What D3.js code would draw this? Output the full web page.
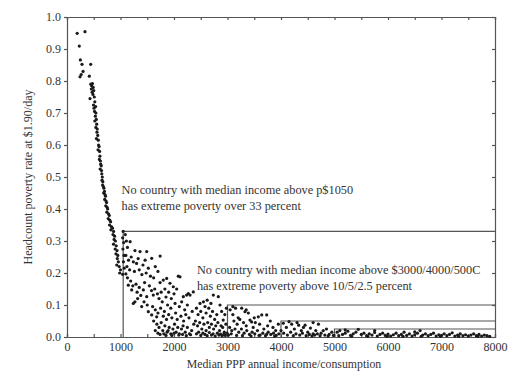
<!DOCTYPE html>
<html>
<head>
<meta charset="utf-8">
<script src="https://cdn.jsdelivr.net/npm/d3@7"></script>
<style>
  body { margin: 0; background: #fff; }
  text { font-family: "Liberation Serif", "DejaVu Serif", serif; fill: #333; }
</style>
</head>
<body>
<div id="app"></div>
<script>
const WIDTH = 527, HEIGHT = 384;

// steep part of the curve, income below ~1100
const curvePoints = [
  [190,0.949],[336,0.954],[230,0.909],[250,0.866],[280,0.852],[443,0.852],[243,0.813],[300,0.83],[265,0.82],[417,0.815],
  [445,0.79],[460,0.785],[475,0.792],[490,0.78],[455,0.775],[500,0.77],[470,0.765],[485,0.758],[430,0.745],[510,0.75],
  [520,0.735],[495,0.725],[505,0.715],[535,0.72],[515,0.705],[540,0.7],[530,0.69],[548,0.68],[520,0.675],[555,0.665],
  [540,0.655],[565,0.65],[560,0.64],[575,0.63],[550,0.62],[585,0.615],[590,0.6],[600,0.595],[580,0.585],[610,0.58],
  [615,0.565],[605,0.555],[625,0.55],[630,0.54],[640,0.535],[620,0.525],[645,0.52],[650,0.51],[660,0.5],[655,0.49],
  [670,0.485],[665,0.475],[680,0.47],[690,0.465],[700,0.455],[685,0.45],[710,0.445],[720,0.44],[705,0.43],[730,0.425],
  [740,0.42],[725,0.41],[750,0.405],[760,0.4],[745,0.39],[775,0.385],[790,0.38],[770,0.37],[800,0.365],[815,0.36],
  [795,0.35],[830,0.345],[850,0.34],[820,0.335],[870,0.33],[860,0.32],[890,0.315],[880,0.305],[905,0.3],[870,0.29],
  [920,0.285],[900,0.275],[935,0.27],[915,0.26],[950,0.255],[940,0.245],[960,0.235],[930,0.225],[975,0.22],[1000,0.21],
  [985,0.2],[1050,0.33],[1040,0.31],[1060,0.295],[1045,0.275],[1065,0.255],[1055,0.235],[1070,0.215],[1040,0.196],[1100,0.197]
];

// 1050 - 2400
const midPoints = [
  [1090,0.32],[1110,0.3],[1180,0.298],[1130,0.28],[1270,0.27],[1365,0.267],[1490,0.267],[1583,0.246],[1740,0.253],[1100,0.255],
  [1150,0.24],[1200,0.25],[1240,0.235],[1300,0.23],[1330,0.245],[1420,0.225],[1460,0.24],[1520,0.215],[1650,0.22],[1700,0.205],
  [1120,0.22],[1170,0.21],[1260,0.205],[1350,0.21],[1400,0.195],[1480,0.2],[1560,0.19],[1620,0.185],[1800,0.178],[1863,0.183],
  [1740,0.17],[1925,0.168],[1987,0.157],[1830,0.15],[2112,0.188],[2174,0.126],[2236,0.131],[2300,0.131],[2143,0.11],[2361,0.141],
  [1146,0.162],[1209,0.147],[1240,0.105],[1270,0.11],[1427,0.147],[1490,0.126],[1613,0.131],[1396,0.095],[1520,0.079],[1583,0.069],
  [1676,0.063],[1130,0.185],[1190,0.175],[1230,0.16],[1290,0.165],[1310,0.14],[1350,0.155],[1380,0.13],[1450,0.17],[1540,0.16],
  [1580,0.145],[1640,0.15],[1690,0.135],[1720,0.12],[1760,0.14],[1780,0.11],[1850,0.125],[1900,0.14],[1950,0.12],[2000,0.135],
  [2050,0.15],[2080,0.19],[1880,0.1],[1940,0.09],[2020,0.105],[2100,0.095],[2200,0.085],[2250,0.1],[1320,0.12],[1440,0.11],
  [1500,0.1],[1600,0.095],[1650,0.085],[1700,0.075],[1750,0.09],[1800,0.065],[1820,0.08],[1860,0.055],[1900,0.07],[1960,0.06],
  [2030,0.075],[2060,0.055],[2130,0.065],[2180,0.05],[2220,0.07],[2280,0.06],[2340,0.08],[1620,0.05],[1680,0.04],[1720,0.03],
  [1760,0.045],[1790,0.02],[1830,0.035],[1870,0.015],[1910,0.03],[1940,0.01],[1980,0.025],[2010,0.04],[2040,0.015],[2070,0.03],
  [2100,0.01],[2140,0.025],[2170,0.035],[2210,0.015],[2250,0.03],[2290,0.01],[2330,0.02],[2370,0.04],[1650,0.02],[1700,0.012],
  [1740,0.008],[1810,0.01],[1850,0.005],[1890,0.02],[1960,0.005],[2000,0.012],[2090,0.006],[2160,0.008],[2230,0.004],[2310,0.007]
];

// 2400 - 4000
const lowPoints = [
  [2268,0.136],[2486,0.105],[2580,0.095],[2735,0.131],[2828,0.126],[2860,0.1],[2890,0.08],[2800,0.07],[2920,0.053],[2420,0.09],
  [2450,0.07],[2500,0.08],[2540,0.06],[2600,0.075],[2650,0.09],[2680,0.065],[2720,0.08],[2760,0.055],[2950,0.07],[2980,0.09],
  [2400,0.05],[2440,0.035],[2480,0.045],[2520,0.025],[2560,0.04],[2600,0.02],[2630,0.045],[2660,0.03],[2700,0.04],[2740,0.025],
  [2780,0.035],[2820,0.045],[2850,0.02],[2880,0.035],[2910,0.03],[2940,0.015],[2970,0.04],[2420,0.01],[2460,0.015],[2500,0.005],
  [2540,0.012],[2580,0.008],[2620,0.004],[2660,0.014],[2700,0.006],[2730,0.01],[2770,0.003],[2810,0.012],[2840,0.006],[2870,0.009],
  [2900,0.004],[2930,0.008],[2960,0.005],[2990,0.012],[2550,0.11],[2620,0.115],[2690,0.105],
  [3265,0.09],[3327,0.079],[3390,0.075],[3420,0.053],[3450,0.047],[3576,0.063],[3640,0.069],[3733,0.069],[3050,0.085],[3100,0.07],
  [3150,0.09],[3200,0.06],[3120,0.05],[3180,0.04],[3230,0.055],[3300,0.045],[3350,0.035],[3480,0.03],[3520,0.045],[3600,0.04],
  [3680,0.025],[3750,0.035],[3800,0.05],[3850,0.03],[3900,0.02],[3950,0.04],[3040,0.03],[3080,0.02],[3140,0.025],[3210,0.015],
  [3260,0.025],[3310,0.012],[3360,0.02],[3410,0.008],[3460,0.015],[3510,0.01],[3560,0.02],[3610,0.006],[3660,0.012],[3710,0.004],
  [3760,0.015],[3810,0.008],[3860,0.012],[3910,0.005],[3960,0.01],[3020,0.006],[3070,0.01],[3170,0.005],[3280,0.004],[3440,0.003],
  [3590,0.005],[3730,0.008],[3880,0.003],[3500,0.06],[3350,0.085],[3100,0.095]
];

// 4000 - 8000
const tailPoints = [
  [4044,0.043],[4200,0.04],[4330,0.037],[4450,0.037],[4700,0.04],[4790,0.02],[4100,0.03],[4150,0.048],[4250,0.025],[4300,0.045],
  [4380,0.02],[4420,0.03],[4500,0.015],[4550,0.028],[4600,0.01],[4650,0.02],[4750,0.012],[4850,0.025],[4900,0.008],[4950,0.015],
  [4050,0.012],[4120,0.006],[4180,0.015],[4230,0.004],[4280,0.01],[4350,0.006],[4400,0.012],[4470,0.004],[4530,0.008],[4580,0.003],
  [4630,0.006],[4680,0.01],[4730,0.004],[4820,0.006],[4880,0.003],[4980,0.005],[4000,0.02],[4600,0.045],
  [5445,0.024],[5050,0.015],[5100,0.02],[5150,0.008],[5200,0.012],[5250,0.018],[5300,0.005],[5350,0.01],[5400,0.015],[5500,0.008],
  [5550,0.012],[5600,0.004],[5650,0.01],[5700,0.006],[5750,0.014],[5800,0.003],[5850,0.008],[5900,0.012],[5950,0.005],[6000,0.009],
  [6050,0.003],[6100,0.007],[6150,0.012],[6200,0.004],[6250,0.008],[6300,0.015],[6350,0.005],[6400,0.01],[6450,0.003],[6500,0.007],
  [6550,0.012],[6600,0.02],[6650,0.006],[6700,0.01],[6750,0.004],[6800,0.008],[6850,0.012],[6900,0.003],[6950,0.007],[7000,0.005],
  [7050,0.01],[7100,0.004],[7150,0.008],[7200,0.013],[7250,0.003],[7300,0.006],[7350,0.01],[7400,0.004],[7450,0.007],[7500,0.003],
  [7550,0.006],[7600,0.01],[7650,0.004],[7700,0.008],[7750,0.003],[7800,0.006],[7850,0.004],[7900,0.002],[5080,0.004],[5320,0.002],
  [5620,0.002],[5980,0.002],[6280,0.002],[6620,0.002],[6980,0.002],[7320,0.002],[7680,0.002],[5200,0.022],[5750,0.02],[6500,0.016]
];

// threshold boxes: income cut-off and poverty ceiling
const thresholdIncome = [1050, 3000, 4000, 5000];
const thresholdRate = [0.33, 0.10, 0.05, 0.025];

const xTicks = d3.range(0, 8001, 500);
const xLabels = [0, 1000, 2000, 3000, 4000, 5000, 6000, 7000, 8000];
const yTicks = [0, 0.1, 0.2, 0.3, 0.4, 0.5, 0.6, 0.7, 0.8, 0.9, 1.0];

const note1 = ['No country with median income above p$1050', 'has extreme poverty over 33 percent'];
const note2 = ['No country with median income above $3000/4000/500C', 'has extreme poverty above 10/5/2.5 percent'];

const margin = { top: 17, right: 32, bottom: 47, left: 67 };
const w = WIDTH - margin.left - margin.right;
const h = HEIGHT - margin.top - margin.bottom;

const svg = d3.select('#app')
  .append('svg')
    .attr('width', WIDTH)
    .attr('height', HEIGHT);

const g = svg.append('g').attr('transform', `translate(${margin.left},${margin.top})`);

const x = d3.scaleLinear().domain([0, 8000]).range([0, w]);
const y = d3.scaleLinear().domain([0, 1]).range([h, 0]);

// axes (box)
const axBottom = g.append('g')
  .attr('transform', `translate(0,${h})`)
  .call(d3.axisBottom(x).tickValues(xTicks).tickSize(-3).tickPadding(5)
    .tickFormat(d => xLabels.includes(d) ? d : ''));
const axLeft = g.append('g')
  .call(d3.axisLeft(y).tickValues(yTicks).tickSize(3).tickPadding(3).tickFormat(d3.format('.1f')));
const axTop = g.append('g')
  .call(d3.axisTop(x).tickValues(xTicks).tickSize(-3).tickFormat(''));
const axRight = g.append('g')
  .attr('transform', `translate(${w},0)`)
  .call(d3.axisRight(y).tickValues(yTicks).tickSize(-3).tickFormat(''));

[axBottom, axLeft, axTop, axRight].forEach(a => {
  a.selectAll('path, line').attr('stroke', '#555').attr('stroke-width', 1.2);
  a.selectAll('text').style('font-size', '12px').attr('fill', '#333');
});

// threshold lines
thresholdIncome.forEach((inc, i) => {
  const r = thresholdRate[i];
  g.append('path')
    .attr('d', `M${x(inc)},${y(0)}V${y(r)}H${x(8000)}`)
    .attr('fill', 'none')
    .attr('stroke', '#555')
    .attr('stroke-width', 1.2);
});

// dots
const allPoints = curvePoints.concat(midPoints, lowPoints, tailPoints);
g.selectAll('circle.dot')
  .data(allPoints)
  .enter()
  .append('circle')
    .attr('class', 'dot')
    .attr('cx', d => x(d[0]))
    .attr('cy', d => y(d[1]))
    .attr('r', 1.6)
    .attr('fill', '#1a1a1a');

// annotations
function note(lines, inc, rate) {
  const t = g.append('text')
    .attr('x', x(inc))
    .attr('y', y(rate))
    .style('font-size', '12.3px');
  lines.forEach((s, i) => t.append('tspan').attr('x', x(inc)).attr('dy', i ? 16 : 0).text(s));
}
note(note1, 1020, 0.448);
note(note2, 2428, 0.197);

// axis titles
g.append('text')
  .attr('x', w / 2 + 3)
  .attr('y', h + 31)
  .attr('text-anchor', 'middle')
  .style('font-size', '11.8px')
  .text('Median PPP annual income/consumption');

g.append('text')
  .attr('transform', `translate(-35,${h / 2}) rotate(-90)`)
  .attr('text-anchor', 'middle')
  .style('font-size', '12px')
  .text('Headcount poverty rate at $1.90/day');
</script>
</body>
</html>
